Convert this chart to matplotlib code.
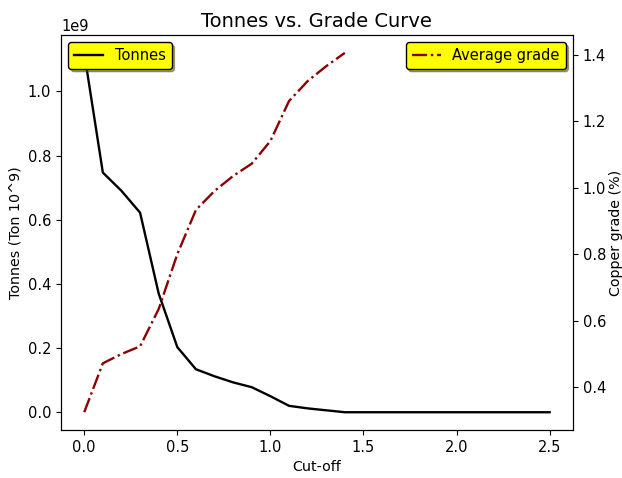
import matplotlib
matplotlib.use("Agg")
import matplotlib.pyplot as plt
import numpy as np

cutoff = [0.0, 0.1, 0.2, 0.3, 0.4, 0.5, 0.6, 0.7, 0.8, 0.9, 1.0, 1.1, 1.2, 1.3, 1.4,
          1.5, 1.6, 1.7, 1.8, 1.9, 2.0, 2.1, 2.2, 2.3, 2.4, 2.5]
tonnes = [1.12e9, 0.747e9, 0.69e9, 0.622e9, 0.37e9, 0.203e9, 0.134e9, 0.112e9,
          0.093e9, 0.078e9, 0.05e9, 0.02e9, 0.012e9, 0.006e9, 0.0,
          0.0, 0.0, 0.0, 0.0, 0.0, 0.0, 0.0, 0.0, 0.0, 0.0, 0.0]
grade_cutoff = [0.0, 0.1, 0.2, 0.3, 0.4, 0.5, 0.6, 0.7, 0.8, 0.9, 1.0, 1.1, 1.2, 1.3, 1.4]
grade = [0.325, 0.472, 0.50, 0.523, 0.635, 0.80, 0.933, 0.99, 1.035, 1.072,
         1.14, 1.26, 1.32, 1.365, 1.405]

fig, ax1 = plt.subplots(figsize=(6.22, 4.78), dpi=100)
fig.subplots_adjust(left=0.098, right=0.921, top=0.927, bottom=0.100)

l1, = ax1.plot(cutoff, tonnes, color="black", linewidth=1.7, label="Tonnes")
ax1.set_xlabel("Cut-off", fontsize=10.3)
ax1.set_ylabel("Tonnes (Ton 10^9)", fontsize=10.3)
ax1.tick_params(labelsize=10.5)
ax1.yaxis.get_offset_text().set_fontsize(10.5)

ax2 = ax1.twinx()
l2, = ax2.plot(grade_cutoff, grade, color="#8B0000", linestyle="-.", linewidth=1.7,
               label="Average grade")
ax2.set_ylabel("Copper grade (%)", fontsize=10.3, labelpad=2)
ax2.tick_params(labelsize=10.5)

leg1 = ax1.legend(handles=[l1], loc="upper left", facecolor="yellow", edgecolor="black",
                  shadow=True, framealpha=1, fontsize=10.5)
leg2 = ax2.legend(handles=[l2], loc="upper right", facecolor="yellow", edgecolor="black",
                  shadow=True, framealpha=1, fontsize=10.5)

ax1.set_title("Tonnes vs. Grade Curve", fontsize=14)

fig.savefig("out.png", dpi=100)
